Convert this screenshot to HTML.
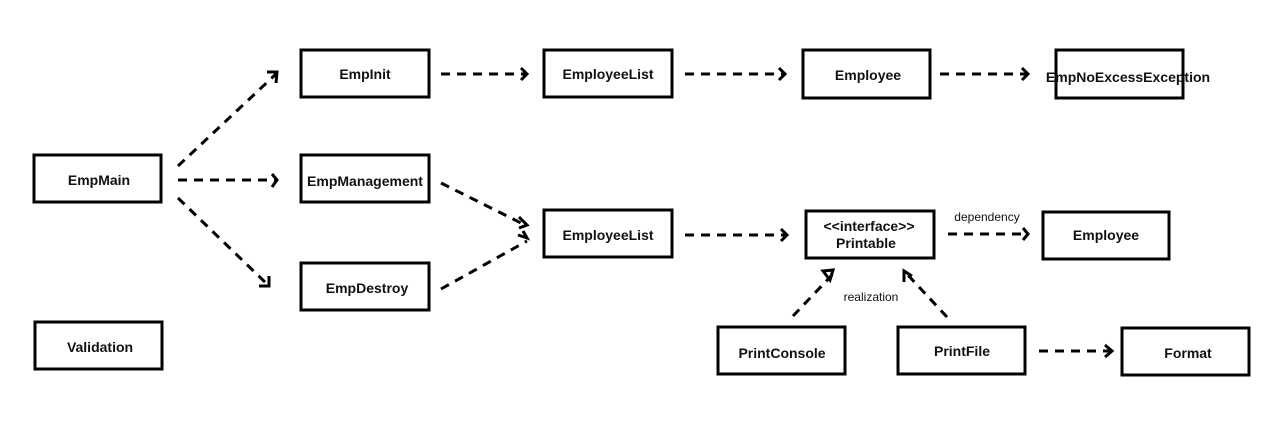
<!DOCTYPE html>
<html><head><style>body{margin:0;background:#fff}svg{display:block}text{font-family:"Liberation Sans",sans-serif;font-weight:bold;font-size:14px;fill:#111}</style></head><body>
<svg width="1286" height="424" xmlns="http://www.w3.org/2000/svg">
<g fill="none" stroke="#000" stroke-width="3">
<rect x="301" y="50" width="128" height="47"/>
<rect x="34" y="155" width="127" height="47"/>
<rect x="301" y="155" width="128" height="47"/>
<rect x="301" y="263" width="128" height="47"/>
<rect x="35" y="322" width="127" height="47"/>
<rect x="544" y="50" width="128" height="47"/>
<rect x="803" y="50" width="127" height="48"/>
<rect x="1056" y="50" width="127" height="48"/>
<rect x="544" y="210" width="128" height="47"/>
<rect x="806" y="211" width="128" height="47"/>
<rect x="1043" y="212" width="126" height="47"/>
<rect x="718" y="327" width="127" height="47"/>
<rect x="898" y="327" width="127" height="47"/>
<rect x="1122" y="328" width="127" height="47"/>
</g>
<g fill="none" stroke="#000" stroke-width="3" stroke-dasharray="9,7">
<line x1="178" y1="166" x2="276" y2="74"/>
<line x1="178" y1="180" x2="276" y2="180"/>
<line x1="178" y1="198" x2="268" y2="285"/>
<line x1="441" y1="74" x2="525" y2="74"/>
<line x1="441" y1="183" x2="527" y2="226"/>
<line x1="441" y1="289" x2="527" y2="241"/>
<line x1="685" y1="74" x2="785" y2="74"/>
<line x1="940" y1="74" x2="1028" y2="74"/>
<line x1="685" y1="235" x2="786" y2="235"/>
<line x1="948" y1="234" x2="1028" y2="234"/>
<line x1="793" y1="316" x2="833" y2="274"/>
<line x1="947" y1="317" x2="906" y2="273"/>
<line x1="1039" y1="351" x2="1110" y2="351"/>
</g>
<g fill="none" stroke="#000" stroke-width="3">
<polyline points="267,72 277,72 276,83"/>
<polyline points="272,174 277,180 272,187"/>
<polyline points="259,286 269,286 269,276"/>
<polyline points="521,68 527,74 521,80"/>
<polyline points="519,217 527,225 519,228"/>
<polyline points="518,235 527,238 523,231"/>
<polyline points="779,68 785,74 779,80"/>
<polyline points="1022,68 1028,74 1022,80"/>
<polyline points="781,229 787,235 781,241"/>
<polyline points="1023,228 1028,234 1023,240"/>
<polyline points="1105,345 1112,351 1105,357"/>
<polygon points="823,271 833,270 830,280"/>
<polyline points="904,282 904,271 912,276"/>
</g>
<g text-anchor="middle">
<text x="365" y="79">EmpInit</text>
<text x="99" y="185">EmpMain</text>
<text x="365" y="186">EmpManagement</text>
<text x="367" y="293">EmpDestroy</text>
<text x="100" y="352">Validation</text>
<text x="608" y="79">EmployeeList</text>
<text x="868" y="80">Employee</text>
<text x="1128" y="82">EmpNoExcessException</text>
<text x="608" y="240">EmployeeList</text>
<text x="869" y="231" font-size="13">&lt;&lt;interface&gt;&gt;</text>
<text x="866" y="248">Printable</text>
<text x="1106" y="240">Employee</text>
<text x="782" y="358">PrintConsole</text>
<text x="962" y="356">PrintFile</text>
<text x="1188" y="358">Format</text>
<text x="987" y="221" style="font-weight:normal;font-size:12px">dependency</text>
<text x="871" y="301" style="font-weight:normal;font-size:12px">realization</text>
</g>
</svg>
</body></html>
